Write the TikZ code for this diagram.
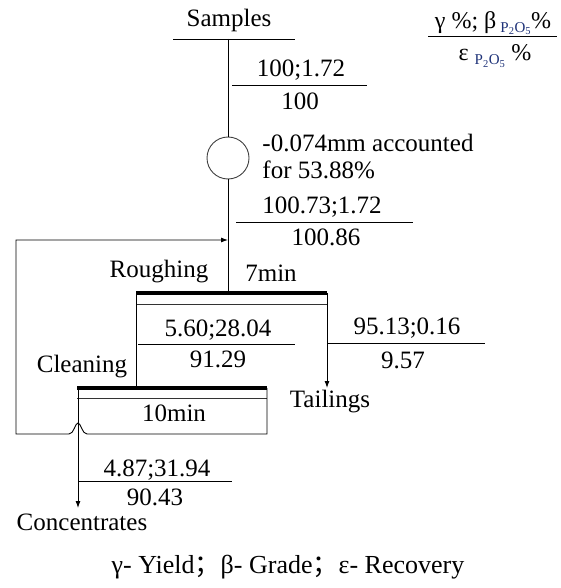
\documentclass[tikz,border=0pt]{standalone}
\usepackage{fontspec}
\setmainfont{Liberation Serif}
\newfontfamily\cjkfont{Noto Sans CJK SC}
\usetikzlibrary{arrows.meta}
\definecolor{oxblue}{RGB}{30,50,120}
\newcommand{\poxide}{\raisebox{-4pt}{\color{oxblue}\fontsize{15}{15}\selectfont P\textsubscript{2}O\textsubscript{5}}}
\newcommand{\fsemi}{{\cjkfont ；}}

\begin{document}
\begin{tikzpicture}[>={Latex[length=7pt,width=5pt]},x=1pt,y=-1pt,line width=0.9pt,
  every node/.style={inner sep=0pt,font=\fontsize{25}{28}\selectfont},
  bar/.style={line width=3.5pt},
  cell/.style={draw=black!80}]
  \useasboundingbox (0,0) rectangle (560,588);
  % Feed
  \node (samples) at (229,20) {Samples};
  \draw (173,39) -- (295,39);
  \coordinate (feedtop) at (228,39);
  \node[circle,draw=black!75,minimum size=42pt] (sieve) at (228,158) {};
  \coordinate (feed) at (228,240);
  \node (f1) at (301,70) {100;1.72};
  \draw (232,85) -- (367,85);
  \node (f2) at (300,101) {100};
  \node[anchor=west] (grind1) at (262,143) {-0.074mm accounted};
  \node[anchor=west] (grind2) at (262,170) {for 53.88\%};
  \node (g1) at (322,207) {100.73;1.72};
  \draw (236,222) -- (413,222);
  \node (g2) at (326,237) {100.86};
  % Roughing cell
  \node (rough) at (159,272) {Roughing};
  \node (rtime) at (271,273) {7min};
  \draw[bar] (136,293) coordinate (rl) -- (327,293) coordinate (rr);
  \draw[cell] (136,304) -- (327,304);
  % Cleaning cell
  \node (clean) at (82,367) {Cleaning};
  \draw[bar] (77,388) coordinate (cl) -- (267,388) coordinate (cr);
  \draw[cell] (77,398) -- (267,398);
  \node (ctime) at (174,413) {10min};
  \coordinate (clin) at (136,388);
  \coordinate (tailin) at (327,388);
  \coordinate (concin) at (78,508);
  % Products
  \node (r1) at (218,330) {5.60;28.04};
  \draw (138,344) -- (295,344);
  \node (r2) at (218,359) {91.29};
  \node (t1) at (407,328) {95.13;0.16};
  \draw (328,343) -- (485,343);
  \node (t2) at (403,360) {9.57};
  \node (tail) at (330,402) {Tailings};
  \node (k1) at (157,470) {4.87;31.94};
  \draw (78,481) -- (232,481);
  \node (k2) at (155,497) {90.43};
  \node (conc) at (82,522) {Concentrates};
  % Flow lines
  \draw (feedtop) -- (sieve.north);
  \draw (sieve.south) -- (228,293);
  \draw (rl) -- (clin);
  \draw[->] (rr) -- (tailin);
  \draw[->] (78,388) -- (concin);
  % Middlings back to roughing
  \draw[->] (cr) -- (267,434) -- (87,434) .. controls (82,434) and (81,423) .. (78,423)
    .. controls (75,423) and (74,434) .. (69,434) -- (16,434) -- (16,240) -- (feed);
  % Legends
  \node (key1) at (493,23) {\fontsize{24}{26}\selectfont γ \%; β\,\poxide\%};
  \draw (428,36) -- (557,36);
  \node (key2) at (495,56) {\fontsize{24}{26}\selectfont ε \poxide\ \%};
  \node (keys) at (288,567) {\fontsize{26}{28}\selectfont γ- Yield\fsemi β- Grade\fsemi ε- Recovery};
\end{tikzpicture}
\end{document}
